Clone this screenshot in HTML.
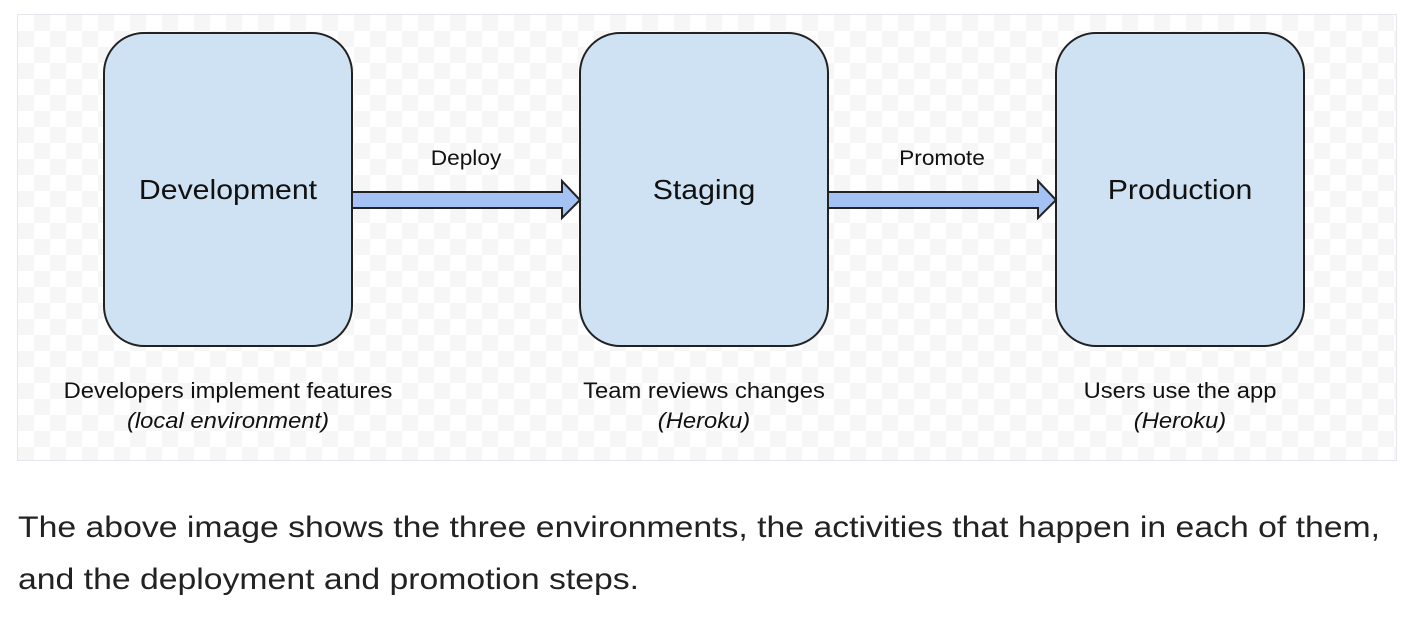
<!DOCTYPE html>
<html><head><style>
body{margin:0;width:1412px;height:622px;background:#fff;position:relative;overflow:hidden;font-family:"Liberation Sans",sans-serif;}
.frame{position:absolute;left:17px;top:14px;width:1378px;height:445px;border:1.5px solid #e3e6ea;
background-color:#fff;background-image:linear-gradient(45deg,#f6f6f6 25%,transparent 25%,transparent 75%,#f6f6f6 75%),linear-gradient(45deg,#f6f6f6 25%,transparent 25%,transparent 75%,#f6f6f6 75%);background-size:32px 32px;background-position:0 0,16px 16px;}
.t{position:absolute;color:#111;white-space:nowrap;transform:translateX(-50%) scaleX(1.08);text-align:center}
p{position:absolute;left:18px;top:502px;margin:0;font-size:30px;line-height:52px;color:#222;transform-origin:0 0;transform:scaleX(1.125);white-space:nowrap}
</style></head><body>
<div class="frame"></div>
<svg width="1412" height="622" style="position:absolute;left:0;top:0">
<g fill="#cfe2f3" stroke="#222" stroke-width="2">
<rect x="104" y="33" width="248" height="313" rx="40"/>
<rect x="580" y="33" width="248" height="313" rx="40"/>
<rect x="1056" y="33" width="248" height="313" rx="40"/>
<path d="M352 192H562V181L580 200L562 218V208H352Z" fill="#a4c2f4"/>
<path d="M828 192H1038V181L1056 200L1038 218V208H828Z" fill="#a4c2f4"/>
</g>
</svg>
<div class="t" style="left:228px;top:174px;font-size:28px">Development</div>
<div class="t" style="left:704px;top:174px;font-size:28px">Staging</div>
<div class="t" style="left:1180px;top:174px;font-size:28px">Production</div>
<div class="t" style="left:466px;top:147px;font-size:21px">Deploy</div>
<div class="t" style="left:942px;top:147px;font-size:21px">Promote</div>
<div class="t" style="left:228px;top:376px;font-size:22px;line-height:30px">Developers implement features<br><i>(local environment)</i></div>
<div class="t" style="left:704px;top:376px;font-size:22px;line-height:30px">Team reviews changes<br><i>(Heroku)</i></div>
<div class="t" style="left:1180px;top:376px;font-size:22px;line-height:30px">Users use the app<br><i>(Heroku)</i></div>
<p>The above image shows the three environments, the activities that happen in each of them,<br>and the deployment and promotion steps.</p>
</body></html>
